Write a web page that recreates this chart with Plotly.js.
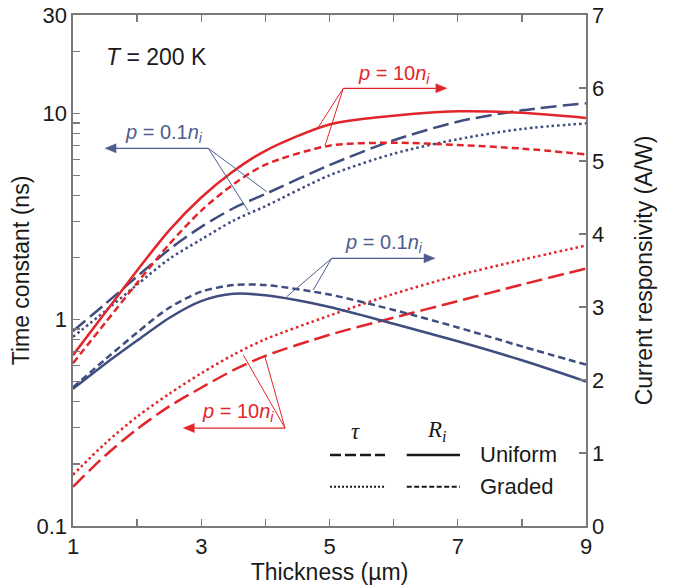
<!DOCTYPE html>
<html>
<head>
<meta charset="utf-8">
<script src="https://cdn.plot.ly/plotly-3.0.1.min.js"></script>
<style>html,body{margin:0;padding:0;background:#fff;}#chart{width:673px;height:588px;}</style>
</head>
<body>
<div id="chart"></div>
<script>
// ---- Data ----
const thickness = [1, 1.5, 2, 2.5, 3, 3.5, 4, 5, 6, 7, 8, 9];
// time constant tau (ns), left log axis
const tauUniformP01 = [0.88, 1.19, 1.62, 2.19, 2.82, 3.47, 4.07, 5.62, 7.41, 9.12, 10.35, 11.2];
const tauGradedP01  = [0.826, 1.10, 1.48, 1.97, 2.45, 3.02, 3.55, 5.01, 6.38, 7.5, 8.41, 8.95];
const tauUniformP10 = [0.155, 0.219, 0.295, 0.380, 0.468, 0.569, 0.668, 0.845, 1.023, 1.23, 1.48, 1.77];
const tauGradedP10  = [0.177, 0.251, 0.339, 0.437, 0.550, 0.676, 0.804, 1.047, 1.334, 1.64, 1.95, 2.29];
// current responsivity Ri (A/W), right linear axis
const riUniformP01 = [1.88, 2.22, 2.54, 2.85, 3.08, 3.18, 3.16, 3.0, 2.77, 2.53, 2.27, 1.98];
const riGradedP01  = [1.9, 2.28, 2.65, 2.99, 3.21, 3.30, 3.30, 3.17, 2.96, 2.72, 2.46, 2.21];
const riUniformP10 = [2.34, 2.92, 3.50, 4.05, 4.50, 4.86, 5.14, 5.5, 5.62, 5.68, 5.66, 5.59];
const riGradedP10  = [2.23, 2.78, 3.33, 3.86, 4.32, 4.68, 4.95, 5.21, 5.25, 5.22, 5.17, 5.09];

const xTickVals = [1, 3, 5, 7, 9];
const xMinorVals = [2, 4, 6, 8];
const yTickVals = [0.1, 1, 10, 30];
const yMinorVals = [0.2,0.3,0.4,0.5,0.6,0.7,0.8,0.9,2,3,4,5,6,7,8,9,20];
const y2TickVals = [0, 1, 2, 3, 4, 5, 6, 7];

// ---- Styles ----
const RED = '#E1262B';
const BLUE = '#3F4D7F';
const BLUE_T = '#4E5D8E';
const LONG = '16px,6px';
const DOT = '2.5px,3px';
const SHORT = '7px,4px';
const LW = 2.5;
const FONT = 'Liberation Sans, Arial, Helvetica, sans-serif';
const SERIF = 'Liberation Serif, Times New Roman, serif';
const AX = '#7a7a7a';

function tr(y, color, dash, axis, name) {
  return {x: thickness, y: y, type: 'scatter', mode: 'lines', name: name, yaxis: axis,
    line: {color: color, width: LW, dash: dash, shape: 'spline', smoothing: 0.8},
    showlegend: false, hoverinfo: 'skip'};
}

const data = [
  tr(tauUniformP01, BLUE, LONG, 'y', 'tau uniform p=0.1ni'),
  tr(tauGradedP01, BLUE, DOT, 'y', 'tau graded p=0.1ni'),
  tr(tauUniformP10, RED, LONG, 'y', 'tau uniform p=10ni'),
  tr(tauGradedP10, RED, DOT, 'y', 'tau graded p=10ni'),
  tr(riUniformP01, BLUE, 'solid', 'y2', 'Ri uniform p=0.1ni'),
  tr(riGradedP01, BLUE, SHORT, 'y2', 'Ri graded p=0.1ni'),
  tr(riUniformP10, RED, 'solid', 'y2', 'Ri uniform p=10ni'),
  tr(riGradedP10, RED, SHORT, 'y2', 'Ri graded p=10ni')
];

const axisCommon = {
  showgrid: false, zeroline: false, showline: true, linecolor: AX, linewidth: 1.6,
  ticks: 'inside', ticklen: 7, tickwidth: 1.3, tickcolor: AX,
  tickfont: {family: FONT, size: 22, color: '#1a1a1a'}
};
const minorCommon = {ticks: 'inside', ticklen: 7, tickwidth: 1.3, tickcolor: AX, showgrid: false};

function txt(x, y, text, color, size, xanchor, family) {
  return {x: x, y: y, xref: 'x', yref: 'y2', text: text, showarrow: false,
    xanchor: xanchor || 'left', yanchor: 'middle',
    font: {family: family || FONT, size: size, color: color}};
}
function seg(x0, y0, x1, y1, color, width, dash) {
  return {type: 'line', xref: 'x', yref: 'y2', x0: x0, y0: y0, x1: x1, y1: y1,
    line: {color: color, width: width, dash: dash || 'solid'}};
}
// horizontal pointer: line from tail to tip with a filled triangular head
const HEAD_L = 11 / 64.125, HEAD_W = 4.5 / 73;
function pointer(xTail, xTip, y, color) {
  const dir = xTip > xTail ? 1 : -1;
  const xb = xTip - dir * HEAD_L;
  return [
    seg(xTail, y, xb, y, color, 1.3),
    {type: 'path', xref: 'x', yref: 'y2', fillcolor: color, line: {color: color, width: 0.5},
     path: 'M ' + xTip + ',' + y + ' L ' + xb + ',' + (y + HEAD_W) + ' L ' + xb + ',' + (y - HEAD_W) + ' Z'}
  ];
}

const annotations = [
  txt(1.48, 6.43, '<i>T</i> = 200 K', '#1a1a1a', 23),
  txt(1.78, 5.37, '<i>p</i> = 0.1<i>n</i><sub><i>i</i></sub>', BLUE_T, 20),
  txt(5.42, 6.19, '<i>p</i> = 10<i>n</i><sub><i>i</i></sub>', RED, 20),
  txt(5.21, 3.87, '<i>p</i> = 0.1<i>n</i><sub><i>i</i></sub>', BLUE_T, 20),
  txt(2.98, 1.55, '<i>p</i> = 10<i>n</i><sub><i>i</i></sub>', RED, 20),
  // legend labels
  txt(5.40, 1.30, '<i>τ</i>', '#1a1a1a', 23, 'center', SERIF),
  txt(6.67, 1.30, '<i>R</i><sub><i>i</i></sub>', '#1a1a1a', 23, 'center', SERIF),
  txt(7.32, 0.973, 'Uniform', '#1a1a1a', 22),
  txt(7.32, 0.538, 'Graded', '#1a1a1a', 22)
];

const shapes = [].concat(
  pointer(3.11, 1.50, 5.174, BLUE_T),
  pointer(5.215, 6.83, 5.996, RED),
  pointer(5.034, 6.645, 3.667, BLUE_T),
  pointer(4.306, 2.72, 1.342, RED),
  [
    // connectors to curves
    seg(3.11, 5.174, 4.02, 4.58, BLUE_T, 1),
    seg(3.11, 5.174, 3.73, 4.32, BLUE_T, 1),
    seg(5.215, 5.996, 4.825, 5.462, RED, 1),
    seg(5.215, 5.996, 4.93, 5.21, RED, 1),
    seg(5.034, 3.667, 4.333, 3.141, BLUE_T, 1),
    seg(5.034, 3.667, 4.747, 3.233, BLUE_T, 1),
    seg(4.306, 1.342, 3.656, 2.342, RED, 1),
    seg(4.306, 1.342, 3.994, 2.319, RED, 1),
    // legend samples
    seg(5.008, 0.973, 5.866, 0.973, '#1a1a1a', 2.5, '11px,4px'),
    seg(6.204, 0.973, 7.035, 0.973, '#1a1a1a', 2.5, 'solid'),
    seg(5.008, 0.538, 5.866, 0.538, '#1a1a1a', 2, '2px,2px'),
    seg(6.204, 0.538, 7.035, 0.538, '#1a1a1a', 2, '5px,2.5px')
  ]
);

const layout = {
  width: 673, height: 588,
  margin: {l: 73, r: 87, t: 15, b: 62},
  paper_bgcolor: '#ffffff', plot_bgcolor: '#ffffff',
  font: {family: FONT, size: 22, color: '#1a1a1a'},
  showlegend: false,
  xaxis: Object.assign({}, axisCommon, {
    range: [1, 9], tickmode: 'array', tickvals: xTickVals, mirror: 'ticks',
    minor: Object.assign({tickmode: 'array', tickvals: xMinorVals}, minorCommon),
    title: {text: 'Thickness (µm)', font: {family: FONT, size: 23, color: '#1a1a1a'}, standoff: 6}
  }),
  yaxis: Object.assign({}, axisCommon, {
    type: 'log', range: [-1, Math.log10(30)], tickmode: 'array', tickvals: yTickVals,
    ticktext: ['0.1', '1', '10', '30'],
    minor: Object.assign({tickmode: 'array', tickvals: yMinorVals}, minorCommon),
    title: {text: 'Time constant (ns)', font: {family: FONT, size: 23, color: '#1a1a1a'}, standoff: 0}
  }),
  yaxis2: Object.assign({}, axisCommon, {
    overlaying: 'y', side: 'right', range: [0, 7], tickmode: 'array', tickvals: y2TickVals,
    title: {text: 'Current responsivity (A/W)', font: {family: FONT, size: 23, color: '#1a1a1a'}, standoff: 32}
  }),
  annotations: annotations,
  shapes: shapes
};

Plotly.newPlot('chart', data, layout, {staticPlot: true, displayModeBar: false});
</script>
</body>
</html>
